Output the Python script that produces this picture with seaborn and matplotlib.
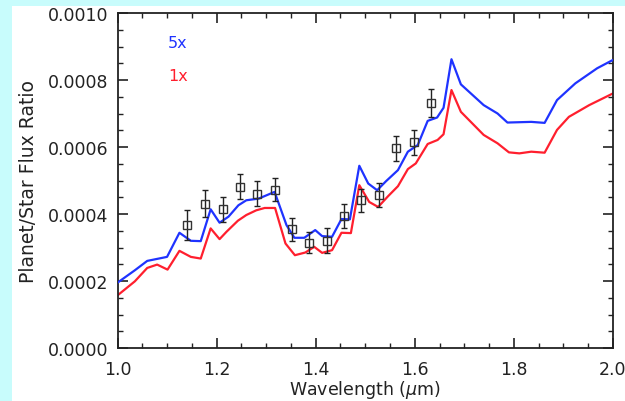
import matplotlib
matplotlib.use("Agg")
import matplotlib.pyplot as plt
import seaborn as sns
import pandas as pd
import numpy as np
from matplotlib.patches import Rectangle
from matplotlib.ticker import MultipleLocator, FormatStrFormatter

# model 5x (blue)
wave_5x = [1.0, 1.035, 1.06, 1.10, 1.125, 1.148, 1.168, 1.188, 1.206, 1.224, 1.244, 1.26,
           1.285, 1.317, 1.341, 1.357, 1.377, 1.399, 1.413, 1.433, 1.452, 1.469, 1.488,
           1.506, 1.524, 1.542, 1.566, 1.586, 1.606, 1.626, 1.645, 1.658, 1.674, 1.693,
           1.739, 1.767, 1.787, 1.835, 1.862, 1.887, 1.924, 1.968, 2.0]
flux_5x = [0.000195, 0.000232, 0.000260, 0.000272, 0.000344, 0.000320, 0.000319, 0.000414,
           0.000374, 0.000392, 0.000426, 0.000441, 0.000446, 0.000466, 0.000367, 0.000329,
           0.000329, 0.000352, 0.000334, 0.000332, 0.000385, 0.000384, 0.000544, 0.000491,
           0.000471, 0.000498, 0.000531, 0.000586, 0.000606, 0.000678, 0.000688, 0.000717,
           0.000862, 0.000787, 0.000725, 0.000700, 0.000673, 0.000675, 0.000672, 0.000740,
           0.000790, 0.000835, 0.000860]

# model 1x (red)
wave_1x = [1.0, 1.035, 1.06, 1.08, 1.101, 1.125, 1.148, 1.168, 1.188, 1.206, 1.22, 1.243,
           1.26, 1.28, 1.297, 1.318, 1.339, 1.358, 1.379, 1.397, 1.413, 1.433, 1.452, 1.471,
           1.488, 1.508, 1.526, 1.546, 1.566, 1.586, 1.602, 1.626, 1.646, 1.658, 1.674,
           1.693, 1.739, 1.767, 1.79, 1.811, 1.835, 1.862, 1.887, 1.911, 1.952, 2.0]
flux_1x = [0.000157, 0.000199, 0.000239, 0.000249, 0.000234, 0.000290, 0.000272, 0.000267,
           0.000357, 0.000325, 0.000347, 0.000380, 0.000397, 0.000411, 0.000418, 0.000418,
           0.000312, 0.000277, 0.000285, 0.000302, 0.000284, 0.000292, 0.000344, 0.000343,
           0.000486, 0.000436, 0.000421, 0.000453, 0.000483, 0.000534, 0.000551, 0.000609,
           0.000621, 0.000638, 0.000770, 0.000705, 0.000636, 0.000611, 0.000584, 0.000581,
           0.000586, 0.000583, 0.000651, 0.000690, 0.000725, 0.000760]

# observed points
obs_wave = [1.141, 1.176, 1.212, 1.247, 1.281, 1.317, 1.352, 1.387, 1.422, 1.457, 1.492,
            1.527, 1.562, 1.598, 1.632]
obs_flux = [0.000367, 0.000431, 0.000414, 0.000481, 0.000461, 0.000473, 0.000354, 0.000314,
            0.000320, 0.000394, 0.000441, 0.000456, 0.000596, 0.000614, 0.000732]
obs_err = [0.000045, 0.000040, 0.000038, 0.000037, 0.000038, 0.000033, 0.000035, 0.000031,
           0.000037, 0.000036, 0.000035, 0.000036, 0.000037, 0.000038, 0.000042]

sns.set_style("ticks")
plt.rcParams['font.family'] = ['DejaVu Sans']
plt.rcParams['mathtext.fontset'] = 'dejavusans'

fig = plt.figure(figsize=(6.25, 4.02), dpi=100, facecolor='#c8fcfc')
fig.patches.append(Rectangle((12 / 625, 0), 1, 1 - 6.5 / 402, transform=fig.transFigure,
                             facecolor='white', edgecolor='none', zorder=-10))
ax = fig.add_axes([117.5 / 625, 1 - 349 / 402, (613 - 117.5) / 625, (349 - 14) / 402])
ax.set_zorder(5)
ax.set_facecolor('white')

df5 = pd.DataFrame({'wave': wave_5x, 'flux': flux_5x})
df1 = pd.DataFrame({'wave': wave_1x, 'flux': flux_1x})
sns.lineplot(data=df5, x='wave', y='flux', ax=ax, color='#1f33ff', lw=1.6, sort=False, zorder=3)
sns.lineplot(data=df1, x='wave', y='flux', ax=ax, color='#ff1f2e', lw=1.6, sort=False, zorder=2)

ax.errorbar(obs_wave, obs_flux, yerr=obs_err, fmt='s', mfc='none', mec='#333333', ms=6,
            mew=1.0, ecolor='#222222', elinewidth=1.0, capsize=2.5, capthick=1.0, zorder=4)

ax.text(1.102, 0.000913, '5x', color='#1f33ff', fontsize=11.5, va='center', ha='left')
ax.text(1.102, 0.000812, '1x', color='#ff1f2e', fontsize=11.5, va='center', ha='left')

ax.set_xlim(1.0, 2.0)
ax.set_ylim(0.0, 0.0010)
ax.xaxis.set_major_locator(MultipleLocator(0.2))
ax.xaxis.set_minor_locator(MultipleLocator(0.05))
ax.yaxis.set_major_locator(MultipleLocator(0.0002))
ax.yaxis.set_minor_locator(MultipleLocator(0.00005))
ax.xaxis.set_major_formatter(FormatStrFormatter('%.1f'))
ax.yaxis.set_major_formatter(FormatStrFormatter('%.4f'))
ax.tick_params(which='both', direction='in', top=True, right=True, color='#222222',
               labelsize=12.5, labelcolor='#222222')
ax.tick_params(which='major', length=7, width=1.2)
ax.tick_params(which='minor', length=3.5, width=1.0)
ax.tick_params(axis='y', which='major', pad=6.5)
ax.tick_params(axis='x', which='major', pad=9)
for s in ax.spines.values():
    s.set_visible(True)
    s.set_linewidth(1.3)
    s.set_color('#222222')

ax.set_xlabel(r'Wavelength ($\mu$m)', fontsize=12.5, color='#222222', labelpad=0)
ax.set_ylabel('Planet/Star Flux Ratio', fontsize=13.5, color='#222222', labelpad=7)

fig.savefig('out.png', dpi=100, facecolor=fig.get_facecolor())
